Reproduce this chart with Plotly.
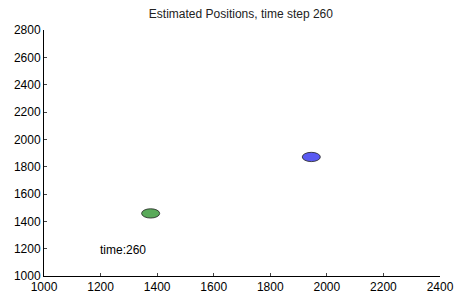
import plotly.graph_objects as go

# Data
target_names = ["target 1", "target 2"]
center_x = [1945, 1377]
center_y = [1871, 1458]
radius_x = [32, 32]
radius_y = [34, 34]
fill_colors = ["#5a5af2", "#5aaa5a"]
x_ticks = [1000, 1200, 1400, 1600, 1800, 2000, 2200, 2400]
y_ticks = [1000, 1200, 1400, 1600, 1800, 2000, 2200, 2400, 2600, 2800]
time_step = 260
label_pos = (1200, 1190)

fig = go.Figure()
# invisible trace to establish axes
fig.add_trace(go.Scatter(x=center_x, y=center_y, mode="markers",
                         marker=dict(size=1, opacity=0), showlegend=False,
                         hoverinfo="skip"))

for cx, cy, rx, ry, col in zip(center_x, center_y, radius_x, radius_y, fill_colors):
    fig.add_shape(type="circle", xref="x", yref="y",
                  x0=cx - rx, x1=cx + rx, y0=cy - ry, y1=cy + ry,
                  fillcolor=col, line=dict(color="#222222", width=0.8))

fig.add_annotation(x=label_pos[0], y=label_pos[1], text=f"time:{time_step}",
                   showarrow=False, xanchor="left", yanchor="middle", xshift=-3,
                   font=dict(size=12, color="black"))

font = dict(family="Liberation Sans, Arial, sans-serif", size=12, color="black")
fig.update_layout(
    width=458, height=296,
    margin=dict(l=44, r=18, t=30, b=20, autoexpand=False),
    paper_bgcolor="white", plot_bgcolor="white",
    font=font,
    title=dict(text=f"Estimated Positions, time step {time_step}", x=0.526, xanchor="center",
               y=0.953, yanchor="middle", font=dict(size=12, color="#222222")),
    showlegend=False,
    xaxis=dict(range=[1000, 2400], tickvals=x_ticks, ticks="inside", ticklen=3,
               showline=True, linecolor="black", linewidth=1, showgrid=False,
               zeroline=False, tickfont=font, mirror=False, automargin=False),
    yaxis=dict(range=[1000, 2800], tickvals=y_ticks, ticks="inside", ticklen=3,
               showline=True, linecolor="black", linewidth=1, showgrid=False,
               zeroline=False, tickfont=font, mirror=False, automargin=False),
)

fig.write_html("out.html", config={"displayModeBar": False},
               post_script="document.body.style.margin='0';document.body.style.overflow='hidden';")
